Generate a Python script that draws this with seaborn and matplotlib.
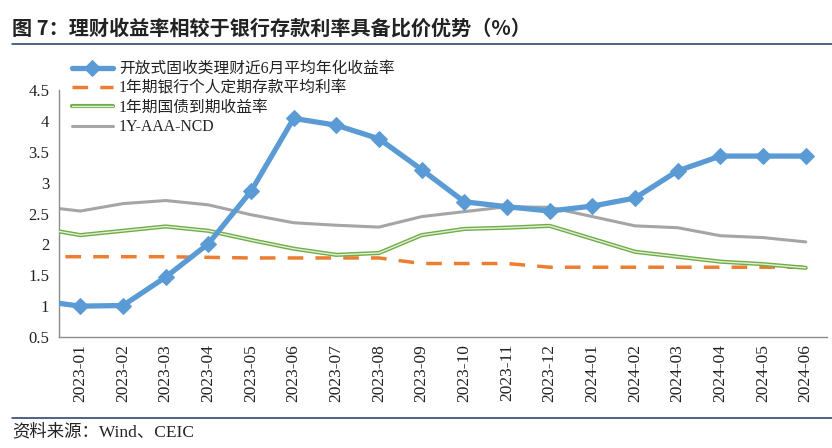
import numpy as np
import pandas as pd
import seaborn as sns
import matplotlib.pyplot as plt
import matplotlib.patheffects as pe
from matplotlib.lines import Line2D

# Data (2022-12 is the off-axis lead-in point, hidden by the x-limits)
months = ["2022-12", "2023-01", "2023-02", "2023-03", "2023-04", "2023-05", "2023-06",
          "2023-07", "2023-08", "2023-09", "2023-10", "2023-11", "2023-12",
          "2024-01", "2024-02", "2024-03", "2024-04", "2024-05", "2024-06"]
wealth = [1.09, 1.00, 1.01, 1.47, 2.01, 2.86, 4.04, 3.93, 3.71, 3.21, 2.69, 2.61, 2.54,
          2.62, 2.75, 3.19, 3.43, 3.43, 3.43]
deposit = [1.80, 1.80, 1.80, 1.80, 1.79, 1.78, 1.78, 1.78, 1.78, 1.69, 1.69, 1.69, 1.63,
           1.63, 1.63, 1.63, 1.63, 1.63, 1.63]
bond = [2.27, 2.15, 2.22, 2.29, 2.22, 2.07, 1.93, 1.83, 1.86, 2.15, 2.25, 2.27, 2.30,
        2.09, 1.88, 1.80, 1.72, 1.68, 1.62]
ncd = [2.62, 2.54, 2.66, 2.71, 2.64, 2.48, 2.35, 2.31, 2.28, 2.45, 2.53, 2.61, 2.60,
       2.45, 2.30, 2.27, 2.14, 2.11, 2.04]
series_names = ["开放式固收类理财近6月平均年化收益率", "1年期银行个人定期存款平均利率",
                "1年期国债到期收益率", "1Y-AAA-NCD"]
title = "图 7：理财收益率相较于银行存款利率具备比价优势（%）"
source = "资料来源：Wind、CEIC"
yticks = [0.5, 1, 1.5, 2, 2.5, 3, 3.5, 4, 4.5]
ytick_labels = ["0.5", "1", "1.5", "2", "2.5", "3", "3.5", "4", "4.5"]

pos = np.arange(len(months)) - 1  # 2022-12 at -1
df = pd.DataFrame({"pos": pos, "wealth": wealth, "deposit": deposit, "bond": bond, "ncd": ncd})

sns.set_style("white")
serif_cjk = ["Liberation Serif", "Noto Sans CJK SC"]
plt.rcParams["font.family"] = serif_cjk

fig = plt.figure(figsize=(8.32, 4.48), dpi=100)
ax = fig.add_axes([59 / 832, 1 - 337 / 448, (827 - 59) / 832, (337 - 90) / 448])

sns.lineplot(data=df, x="pos", y="wealth", ax=ax, color="#5B9BD5", lw=3.8,
             marker="D", markersize=8, markeredgecolor="#5B9BD5",
             label=series_names[0], zorder=5)
sns.lineplot(data=df, x="pos", y="deposit", ax=ax, color="#ED7D31", lw=2.5,
             dashes=False, label=series_names[1], zorder=3)
ax.lines[-1].set_dashes([4.5, 3.5])
sns.lineplot(data=df, x="pos", y="bond", ax=ax, color="#E2EFD9", lw=1.0,
             label=series_names[2], zorder=3)
ax.lines[-1].set_path_effects([pe.Stroke(linewidth=3.0, foreground="#70AD47"), pe.Normal()])
sns.lineplot(data=df, x="pos", y="ncd", ax=ax, color="#A5A5A5", lw=2.2,
             label=series_names[3], zorder=2)

ax.set_xlim(-0.5, len(months) - 1.5)
ax.set_ylim(0.5, 4.5)
ax.set_xlabel("")
ax.set_ylabel("")

ax.set_xticks(pos[1:])
ax.set_xticklabels(months[1:], rotation=90, fontsize=12.5, family="Liberation Serif",
                   color="#222222")
ax.set_xticks(np.arange(-0.5, len(months) - 1, 1.0), minor=True)
ax.tick_params(axis="x", which="major", length=0, pad=5)
ax.tick_params(axis="x", which="minor", length=4, width=1, color="#8c8c8c", direction="out")
ax.set_yticks(yticks)
ax.set_yticklabels(ytick_labels, fontsize=12, family="Liberation Serif", color="#222222")
ax.tick_params(axis="y", which="major", length=4, width=1, color="#8c8c8c", direction="out", pad=3)

for s in ["top", "right"]:
    ax.spines[s].set_visible(False)
for s in ["left", "bottom"]:
    ax.spines[s].set_color("#8c8c8c")
    ax.spines[s].set_linewidth(1.0)

leg = ax.legend(loc="upper left", bbox_to_anchor=(72 / 832, 1 - 61 / 448),
                bbox_transform=fig.transFigure, frameon=False, fontsize=11.3,
                handlelength=2.6, handletextpad=0.4, labelspacing=0.22,
                borderpad=0, borderaxespad=0)
for t in leg.get_texts():
    t.set_color("#222222")

fig.text(12 / 832, 1 - 28 / 448, title, fontsize=14.5, fontweight="bold",
         family=["Noto Sans CJK SC"], color="#222222", va="center", ha="left")
fig.add_artist(Line2D([12 / 832, 1.0], [1 - 44 / 448] * 2, color="#1F3864", lw=1.1))
fig.add_artist(Line2D([12 / 832, 1.0], [1 - 418 / 448] * 2, color="#1F3864", lw=1.1))
fig.text(12 / 832, 1 - 432 / 448, source, fontsize=12.5, family=serif_cjk,
         color="#222222", va="center", ha="left")

fig.savefig("out.png", dpi=100)
